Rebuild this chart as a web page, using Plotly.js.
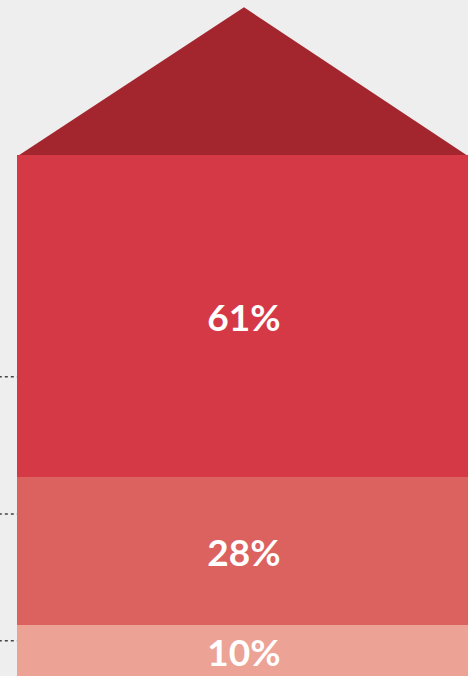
<!DOCTYPE html>
<html>
<head>
<meta charset="utf-8">
<script src="https://cdn.plot.ly/plotly-3.0.1.min.js"></script>
<style>
  html, body { margin: 0; padding: 0; background: #efeeee; }
  #chart { width: 468px; height: 676px; }
</style>
</head>
<body>
<div id="chart"></div>
<script>
// stacked shares, bottom to top
const segments = ['low', 'mid', 'high'];
const shares = [10, 28, 61];
const labels = ['10%', '28%', '61%'];
const segmentColors = ['#eca294', '#db625f', '#d63946'];

// roof on top of the stack (same units as the shares)
const roofHeight = 28;
const roofColor = '#a3262e';

// short dotted leader marks at the left edge
const leaderLevels = [57, 31, 7];

const barTraces = segments.map((name, i) => ({
    x: [0],
    y: [shares[i]],
    type: 'bar',
    width: 1,
    name: name,
    text: [labels[i]],
    textposition: 'inside',
    insidetextanchor: 'middle',
    constraintext: 'none',
    textfont: {family: 'Lato, sans-serif', size: 37, color: '#ffffff', weight: 'bold'},
    marker: {color: segmentColors[i], line: {width: 0}},
    hoverinfo: 'skip'
}));

const stackTop = shares.reduce((a, b) => a + b, 0);

const roofTrace = {
    x: [-0.495, 0, 0.49, -0.495],
    y: [stackTop, stackTop + roofHeight, stackTop, stackTop],
    type: 'scatter',
    mode: 'lines',
    fill: 'toself',
    fillcolor: roofColor,
    line: {width: 0, color: roofColor},
    hoverinfo: 'skip'
};

const leaderTraces = leaderLevels.map(level => ({
    x: [-0.54, -0.5],
    y: [level, level],
    type: 'scatter',
    mode: 'lines',
    line: {color: '#444444', width: 1.5, dash: 'dot'},
    hoverinfo: 'skip'
}));

const layout = {
    width: 468,
    height: 676,
    margin: {l: 0, r: 0, t: 0, b: 0},
    paper_bgcolor: '#efeeee',
    plot_bgcolor: '#efeeee',
    barmode: 'stack',
    showlegend: false,
    xaxis: {range: [-0.5374, 0.4934], visible: false, fixedrange: true},
    yaxis: {range: [0.34, 128.37], visible: false, fixedrange: true}
};

Plotly.newPlot('chart', [...barTraces, roofTrace, ...leaderTraces], layout, {displayModeBar: false, staticPlot: true});
</script>
</body>
</html>
